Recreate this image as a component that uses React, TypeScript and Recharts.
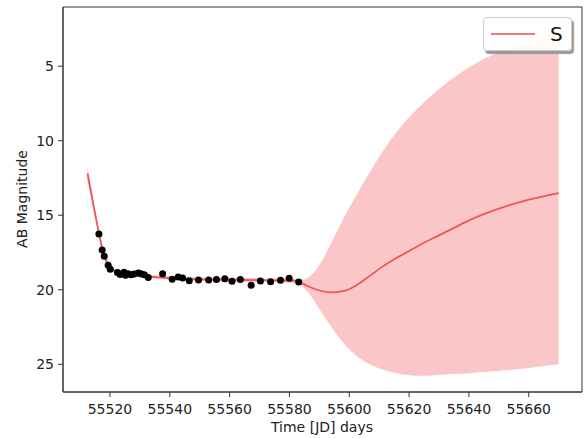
import { Area, ComposedChart, Label, Line, ReferenceArea, Scatter, XAxis, YAxis } from 'recharts';

// observed photometry (JD, AB mag)
const obsDays = [
  55516.3, 55517.4, 55518.1, 55519.4, 55520.1, 55522.5, 55523.4, 55524.7, 55525.2, 55526.1, 55527.1,
  55528.1, 55529.5, 55530.4, 55531.5, 55532.8, 55537.6, 55540.8, 55542.8, 55544.3, 55546.5, 55549.6,
  55553.0, 55555.6, 55558.4, 55560.8, 55563.6, 55567.2, 55570.3, 55573.7, 55577.0, 55579.9, 55583.1
];
const obsMags = [
  16.26, 17.33, 17.76, 18.36, 18.63, 18.85, 18.98, 18.83, 19.03, 18.93, 19.0,
  18.94, 18.88, 18.93, 19.0, 19.17, 18.93, 19.29, 19.15, 19.21, 19.39, 19.34,
  19.34, 19.32, 19.26, 19.43, 19.32, 19.7, 19.41, 19.46, 19.37, 19.23, 19.48
];

// model curve + confidence band
const modelDays = [
  55512.5, 55514, 55516, 55518, 55520, 55522, 55525, 55530, 55535, 55540, 55550, 55560, 55570, 55580,
  55583, 55586, 55590, 55594, 55598, 55602, 55606, 55610, 55615, 55620, 55625, 55630, 55635, 55640,
  55645, 55650, 55655, 55660, 55665, 55670
];
const modelMean = [
  12.2, 13.8, 15.9, 17.7, 18.5, 18.8, 18.97, 19.05, 19.15, 19.22, 19.3, 19.33, 19.36, 19.38,
  19.45, 19.75, 20.05, 20.18, 20.1, 19.75, 19.2, 18.6, 17.95, 17.4, 16.85, 16.35, 15.85, 15.35,
  14.93, 14.56, 14.24, 13.96, 13.73, 13.52
];
const bandBright = [
  11.7, 13.5, 15.7, 17.55, 18.35, 18.67, 18.85, 18.93, 19.03, 19.1, 19.18, 19.2, 19.22, 19.25,
  19.3, 19.35, 18.45, 16.85, 15.2, 13.8, 12.4, 11.05, 9.6, 8.4, 7.4, 6.5, 5.75, 5.07,
  4.5, 4.05, 3.7, 3.4, 3.15, 2.9
];
const bandFaint = [
  12.7, 14.1, 16.1, 17.85, 18.65, 18.93, 19.09, 19.17, 19.27, 19.34, 19.42, 19.46, 19.5, 19.51,
  19.6, 20.0, 21.3, 22.5, 23.6, 24.4, 24.95, 25.3, 25.6, 25.75, 25.78, 25.72, 25.65, 25.6,
  25.52, 25.45, 25.35, 25.25, 25.12, 25.0
];

const xTicks = [55520, 55540, 55560, 55580, 55600, 55620, 55640, 55660];
const yTicks = [5, 10, 15, 20, 25];
const xDomain = [55504.3, 55677.8];
const yDomain = [1.03, 26.86];

const lineColor = '#ec5756';
const bandColor = '#fbc6c8';
const axisColor = '#333';
const font = 'DejaVu Sans';

const model = modelDays.map((day, i) => ({ day, mean: modelMean[i], band: [bandBright[i], bandFaint[i]] }));
const observed = obsDays.map((day, i) => ({ day, mag: obsMags[i] }));

const tickStyle = { fill: '#222', fontSize: 14, fontFamily: font };

export default function App() {
  return (
    <div style={{ position: 'absolute', left: 0, top: 0, width: 587, height: 438, background: '#fff' }}>
      <ComposedChart width={587} height={438} data={model} margin={{ top: 7, right: 5, bottom: 0, left: 0 }}>
        <XAxis
          dataKey="day"
          type="number"
          domain={xDomain}
          ticks={xTicks}
          allowDataOverflow
          height={46}
          tickSize={5}
          tickMargin={7}
          stroke={axisColor}
          tick={tickStyle}
        >
          <Label
            content={() => (
              <text x={322} y={432} textAnchor="middle" fontSize={14} fontFamily={font} fill="#222">
                Time [JD] days
              </text>
            )}
          />
        </XAxis>
        <YAxis
          type="number"
          reversed
          domain={yDomain}
          ticks={yTicks}
          allowDataOverflow
          width={63}
          tickSize={5}
          tickMargin={4}
          stroke={axisColor}
          tick={tickStyle}
        >
          <Label
            content={() => (
              <text x={22} y={199} transform="rotate(-90 22 199)" textAnchor="middle" dominantBaseline="central" fontSize={14} fontFamily={font} fill="#222">
                AB Magnitude
              </text>
            )}
          />
        </YAxis>
        <Area dataKey="band" type="basis" fill={bandColor} fillOpacity={1} stroke="none" isAnimationActive={false} />
        <Line dataKey="mean" type="monotone" stroke={lineColor} strokeWidth={1.8} dot={false} isAnimationActive={false} />
        <Scatter data={observed} dataKey="mag" fill="#000" shape={(p: any) => <circle cx={p.cx} cy={p.cy} r={3.5} fill="#000" />} isAnimationActive={false} />
        <ReferenceArea x1={xDomain[0]} x2={xDomain[1]} y1={yDomain[0]} y2={yDomain[1]} fill="none" stroke={axisColor} strokeWidth={1} ifOverflow="visible" />
      </ComposedChart>
      <div
        style={{
          position: 'absolute',
          left: 483,
          top: 17,
          width: 89,
          height: 34,
          background: 'rgba(255,255,255,0.92)',
          border: '1px solid #ccc',
          borderRadius: 4,
          boxShadow: '2px 3px 1px #999',
          boxSizing: 'border-box',
          display: 'flex',
          alignItems: 'center',
          fontFamily: font,
        }}
      >
        <span style={{ display: 'inline-block', width: 44, height: 0, borderTop: `2px solid ${lineColor}`, marginLeft: 7, opacity: 0.8 }} />
        <span style={{ fontSize: 20, color: '#111', marginLeft: 15 }}>S</span>
      </div>
    </div>
  );
}
